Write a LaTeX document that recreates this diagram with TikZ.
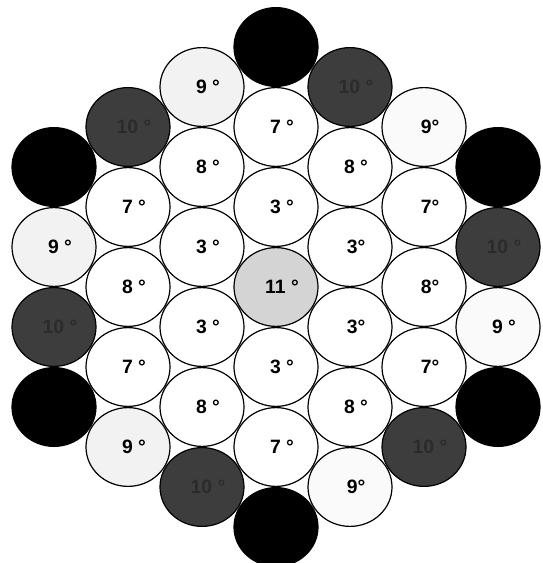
\documentclass[tikz,border=0pt]{standalone}
\usepackage{fontspec}
\setmainfont{Liberation Sans}
\usetikzlibrary{shapes.geometric}
\newcommand{\labfont}{\fontsize{14.5}{16}\selectfont\bfseries}
\tikzset{
  disc/.style={ellipse, draw=black, line width=0.9pt, minimum width=63pt, minimum height=59.1pt, inner sep=0pt},
  whitedisc/.style={disc, fill=white},
  ninedisc/.style={disc, fill=black!5},
  paleninedisc/.style={disc, fill=black!2},
  centerdisc/.style={disc, fill=black!17},
  darkdisc/.style={disc, fill=black!76},
  blackdisc/.style={disc, fill=black},
  lab/.style={font=\labfont, xshift=4.5pt, inner sep=0pt},
  hiddenlab/.style={lab, text=black!83}
}
\begin{document}
\begin{tikzpicture}[x=0.75pt,y=-0.75pt]
\useasboundingbox (0,0) rectangle (542,563);
\clip (0,0) rectangle (542,563);
% column x=276
\node[blackdisc] (a0) at (276,47) {};
\node[whitedisc] (a1) at (276,127) {};
\node[whitedisc] (a2) at (276,207) {};
\node[centerdisc] (a3) at (276,287) {};
\node[whitedisc] (a4) at (276,367) {};
\node[whitedisc] (a5) at (276,447) {};
\node[blackdisc] (a6) at (276,527) {};
% column x=202
\node[ninedisc] (b0) at (202,87) {};
\node[whitedisc] (b1) at (202,167) {};
\node[whitedisc] (b2) at (202,247) {};
\node[whitedisc] (b3) at (202,327) {};
\node[whitedisc] (b4) at (202,407) {};
\node[darkdisc] (b5) at (202,487) {};
% column x=128
\node[darkdisc] (c0) at (128,127) {};
\node[whitedisc] (c1) at (128,207) {};
\node[whitedisc] (c2) at (128,287) {};
\node[whitedisc] (c3) at (128,367) {};
\node[ninedisc] (c4) at (128,447) {};
% column x=54
\node[blackdisc] (d0) at (54,167) {};
\node[ninedisc] (d1) at (54,247) {};
\node[darkdisc] (d2) at (54,327) {};
\node[blackdisc] (d3) at (54,407) {};
% column x=350
\node[darkdisc] (e0) at (350,87) {};
\node[whitedisc] (e1) at (350,167) {};
\node[whitedisc] (e2) at (350,247) {};
\node[whitedisc] (e3) at (350,327) {};
\node[whitedisc] (e4) at (350,407) {};
\node[paleninedisc] (e5) at (350,487) {};
% column x=424
\node[paleninedisc] (f0) at (424,127) {};
\node[whitedisc] (f1) at (424,207) {};
\node[whitedisc] (f2) at (424,287) {};
\node[whitedisc] (f3) at (424,367) {};
\node[darkdisc] (f4) at (424,447) {};
% column x=498
\node[blackdisc] (g0) at (498,167) {};
\node[darkdisc] (g1) at (498,247) {};
\node[paleninedisc] (g2) at (498,327) {};
\node[blackdisc] (g3) at (498,407) {};
% labels
\node[lab] (la1) at (a1.center) {7 °};
\node[lab] (la2) at (a2.center) {3 °};
\node[lab] (la3) at (a3.center) {11 °};
\node[lab] (la4) at (a4.center) {3 °};
\node[lab] (la5) at (a5.center) {7 °};
\node[lab] (lb0) at (b0.center) {9 °};
\node[lab] (lb1) at (b1.center) {8 °};
\node[lab] (lb2) at (b2.center) {3 °};
\node[lab] (lb3) at (b3.center) {3 °};
\node[lab] (lb4) at (b4.center) {8 °};
\node[lab] (lc1) at (c1.center) {7 °};
\node[lab] (lc2) at (c2.center) {8 °};
\node[lab] (lc3) at (c3.center) {7 °};
\node[lab] (lc4) at (c4.center) {9 °};
\node[lab] (ld1) at (d1.center) {9 °};
\node[lab] (le1) at (e1.center) {8 °};
\node[lab] (le2) at (e2.center) {3°};
\node[lab] (le3) at (e3.center) {3°};
\node[lab] (le4) at (e4.center) {8 °};
\node[lab] (le5) at (e5.center) {9°};
\node[lab] (lf0) at (f0.center) {9°};
\node[lab] (lf1) at (f1.center) {7°};
\node[lab] (lf2) at (f2.center) {8°};
\node[lab] (lf3) at (f3.center) {7°};
\node[lab] (lg2) at (g2.center) {9 °};
% barely visible labels in the dark discs
\node[hiddenlab] (lb5) at (b5.center) {10 °};
\node[hiddenlab] (lc0) at (c0.center) {10 °};
\node[hiddenlab] (ld2) at (d2.center) {10 °};
\node[hiddenlab] (le0) at (e0.center) {10 °};
\node[hiddenlab] (lf4) at (f4.center) {10 °};
\node[hiddenlab] (lg1) at (g1.center) {10 °};
\end{tikzpicture}
\end{document}
